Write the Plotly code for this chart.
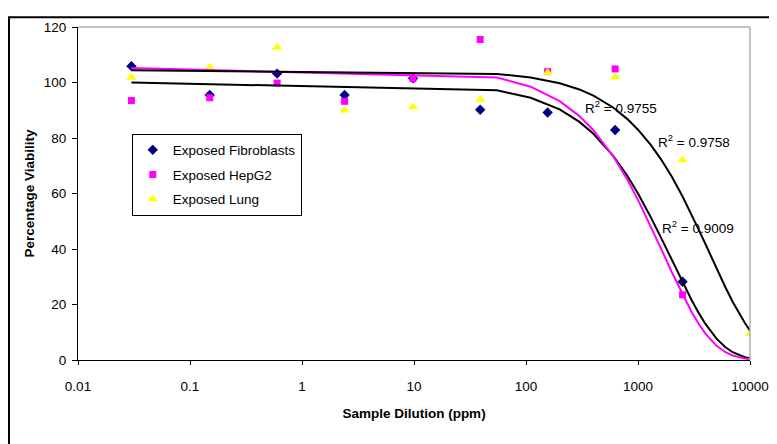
import plotly.graph_objects as go

# dilutions (ppm) and measured viability
dilution = [0.03, 0.15, 0.6, 2.4, 9.8, 39, 156, 625, 2500]
dilution_lung = [0.03, 0.15, 0.6, 2.4, 9.8, 39, 156, 625, 2500, 10000]
fibroblasts = [105.9, 95.5, 103.2, 95.5, 101.5, 90.2, 89.2, 82.9, 28.2]
hepg2 = [93.5, 94.5, 99.8, 93.2, 101.4, 115.5, 103.9, 104.9, 23.5]
lung = [101.8, 105.5, 112.7, 90.0, 91.2, 93.9, 103.5, 102.0, 72.1, 9.4]

# trendlines
fit_x = [0.03, 55, 110, 200, 300, 400, 600, 800, 1000, 1300, 1600, 2000,
         2500, 3000, 3500, 4000, 5000, 6000, 7000, 8000, 9000, 10000]
fit_fibro = [100.0, 97.2, 94.5, 90.3, 85.8, 81.5, 73.6, 66.5, 60.0, 51.5, 44.2,
             36.1, 27.9, 21.7, 16.8, 13.0, 7.8, 4.7, 2.8, 1.7, 1.0, 0.6]
fit_hepg2 = [105.2, 101.8, 98.5, 93.3, 87.9, 82.8, 73.4, 65.1, 57.7, 48.2, 40.3,
             31.7, 23.5, 17.4, 12.9, 9.5, 5.2, 2.9, 1.6, 0.9, 0.5, 0.3]
fit_lung = [104.4, 103.1, 101.8, 99.7, 97.5, 95.3, 91.0, 86.9, 83.0, 77.5, 72.4,
            66.1, 58.9, 52.5, 46.8, 41.8, 33.2, 26.4, 21.0, 16.7, 13.3, 10.6]

r2_labels = ['R<sup>2</sup> = 0.9755', 'R<sup>2</sup> = 0.9758', 'R<sup>2</sup> = 0.9009']

font = 'Arial, Liberation Sans, sans-serif'

fig = go.Figure()
fig.add_trace(go.Scatter(x=dilution, y=fibroblasts, mode='markers', name='Exposed Fibroblasts',
                         legendgroup='a',
                         marker=dict(symbol='diamond', size=8, color='#000080')))
fig.add_trace(go.Scatter(x=dilution, y=hepg2, mode='markers', name='Exposed HepG2',
                         legendgroup='b',
                         marker=dict(symbol='square', size=7, color='#FF00FF')))
fig.add_trace(go.Scatter(x=dilution_lung, y=lung, mode='markers', name='Exposed Lung',
                         legendgroup='c',
                         marker=dict(symbol='triangle-up', size=9, color='#FFFF00')))
fig.add_trace(go.Scatter(x=fit_x, y=fit_fibro, mode='lines', showlegend=False,
                         line=dict(color='black', width=2)))
fig.add_trace(go.Scatter(x=fit_x, y=fit_hepg2, mode='lines', showlegend=False,
                         line=dict(color='#FF00FF', width=2)))
fig.add_trace(go.Scatter(x=fit_x, y=fit_lung, mode='lines', showlegend=False,
                         line=dict(color='black', width=2)))

for txt, ax, ay in zip(r2_labels, [0.808, 0.916, 0.923], [0.76, 0.657, 0.398]):
    fig.add_annotation(text=txt, x=ax, y=ay, xref='paper', yref='paper',
                       xanchor='center', yanchor='middle',
                       showarrow=False, font=dict(size=13.5, color='black'))

# outer chart border and grey plot-area frame
fig.add_shape(type='rect', xref='paper', yref='paper', x0=-0.1027, y0=-0.3, x1=1.2, y1=1.029,
              line=dict(color='black', width=2))
fig.add_shape(type='line', xref='paper', yref='paper', x0=0, y0=1, x1=1, y1=1,
              line=dict(color='#b0b0b0', width=1.5))
fig.add_shape(type='line', xref='paper', yref='paper', x0=1, y0=0, x1=1, y1=1,
              line=dict(color='#b0b0b0', width=1.5))

fig.update_layout(
    width=777, height=444,
    margin=dict(l=70, r=35, t=12, b=92),
    paper_bgcolor='white', plot_bgcolor='white',
    font=dict(family=font, size=13.5, color='black'),
    legend=dict(x=0.08, y=0.68, xanchor='left', yanchor='top',
                bordercolor='black', borderwidth=1, bgcolor='white',
                font=dict(size=13.5), tracegroupgap=4, itemwidth=30),
    xaxis=dict(type='log', range=[-2, 4], dtick=1, tickformat='~g',
               showgrid=False, zeroline=False, showline=True, linecolor='black',
               linewidth=1, ticks='outside', ticklen=4, tickcolor='black',
               ticklabelstandoff=10,
               title=dict(text='<b>Sample Dilution (ppm)</b>', font=dict(size=13.5), standoff=15)),
    yaxis=dict(range=[0, 120], dtick=20, showgrid=False, zeroline=False,
               showline=True, linecolor='black', linewidth=1, ticks='outside',
               ticklen=5, tickcolor='black', ticklabelstandoff=3,
               title=dict(text='<b>Percentage Viability</b>', font=dict(size=13.5), standoff=6)),
)

fig.write_html('out.html')
